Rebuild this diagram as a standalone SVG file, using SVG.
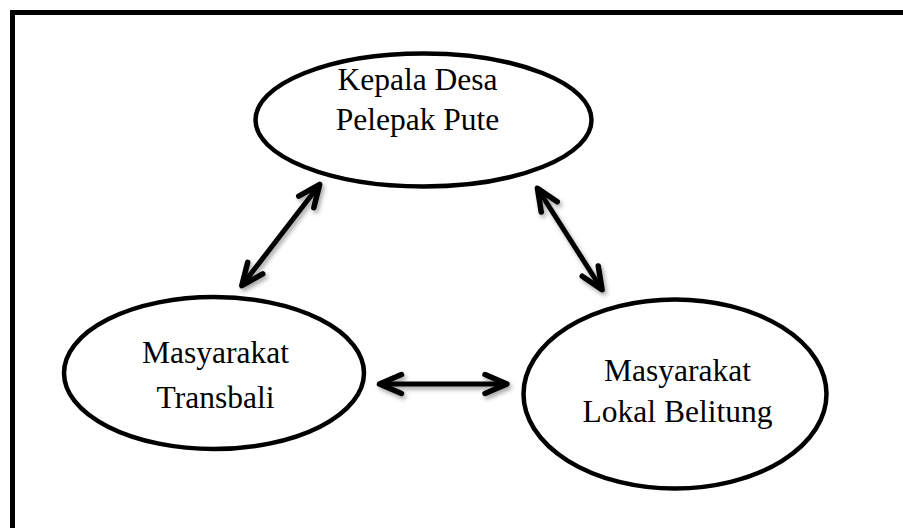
<svg xmlns="http://www.w3.org/2000/svg" width="903" height="528" viewBox="0 0 903 528">
<defs>
<style>
.frame{fill:none;stroke:#000;stroke-width:5}
.node{fill:#fff;stroke:#000;stroke-width:4.5}
.lbl{font-family:"Liberation Serif","Times New Roman",serif;font-size:31.5px;fill:#000;text-anchor:middle}
.conn{fill:none;stroke:#000;stroke-width:5;marker-start:url(#head);marker-end:url(#head);filter:url(#sh)}
</style>
<marker id="head" markerUnits="userSpaceOnUse" viewBox="-30 -15 40 30" refX="0" refY="0" markerWidth="40" markerHeight="30" orient="auto-start-reverse" overflow="visible">
<path d="M -20 -9.5 L 2 0 L -20 9.5" fill="none" stroke="#000" stroke-width="5.5" stroke-linecap="round" stroke-linejoin="round"/>
</marker>
<filter id="sh" filterUnits="userSpaceOnUse" x="0" y="0" width="903" height="528">
<feDropShadow dx="2" dy="3" stdDeviation="2" flood-color="#000" flood-opacity="0.35"/>
</filter>
</defs>
<rect class="frame" x="12.5" y="12.5" width="1000" height="1000"/>
<g id="kepala">
<ellipse class="node" cx="423.5" cy="120" rx="168" ry="66.5"/>
<text class="lbl" x="417.5" y="90">Kepala Desa</text>
<text class="lbl" x="417.5" y="130">Pelepak Pute</text>
</g>
<g id="transbali">
<ellipse class="node" cx="214" cy="373" rx="150" ry="76"/>
<text class="lbl" x="215.5" y="363">Masyarakat</text>
<text class="lbl" x="215.5" y="408">Transbali</text>
</g>
<g id="lokal">
<ellipse class="node" cx="675" cy="394" rx="151.5" ry="94.5"/>
<text class="lbl" x="677.5" y="381">Masyarakat</text>
<text class="lbl" x="677.5" y="422">Lokal Belitung</text>
</g>
<g id="connectors">
<line class="conn" x1="243" y1="284" x2="318.5" y2="186"/>
<line class="conn" x1="538.5" y1="190" x2="601" y2="288"/>
<line class="conn" x1="381.5" y1="384" x2="505" y2="384"/>
</g>
</svg>
